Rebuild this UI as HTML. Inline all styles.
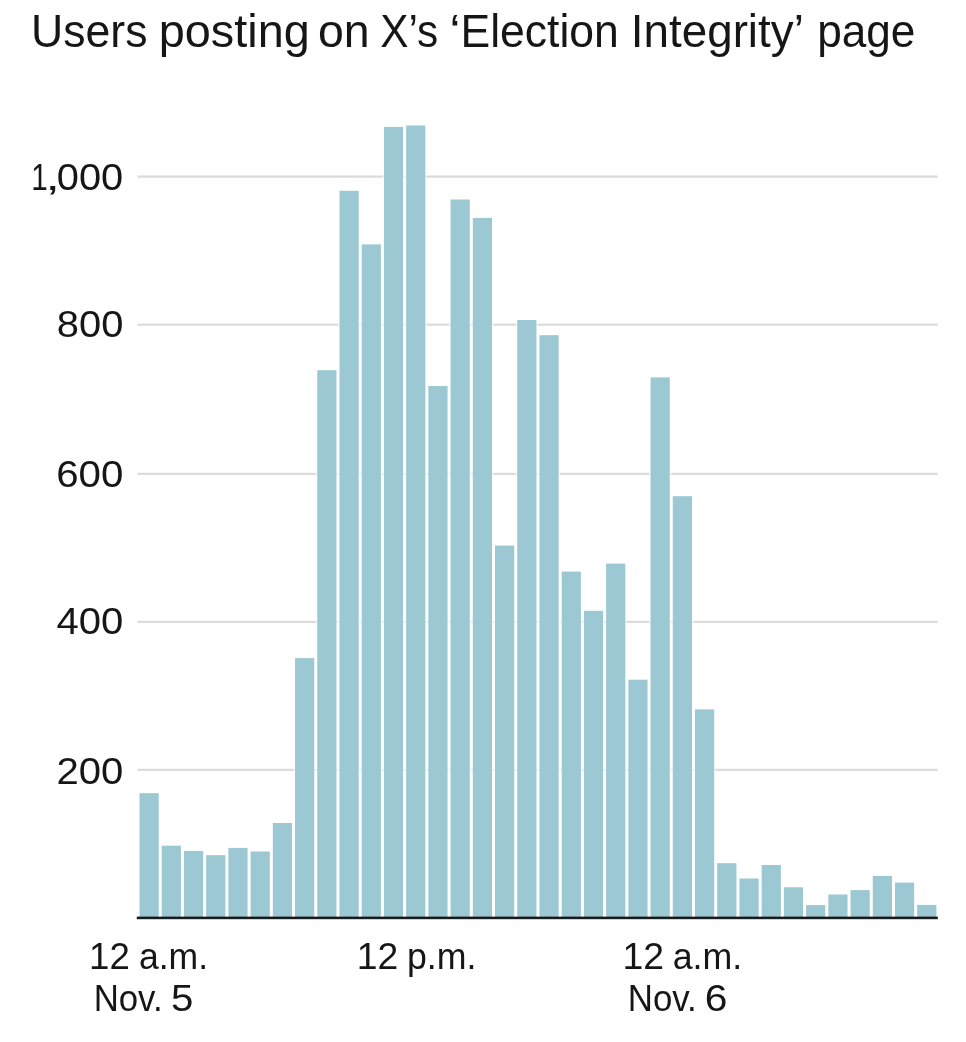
<!DOCTYPE html>
<html><head><meta charset="utf-8"><title>Users posting on X's 'Election Integrity' page</title>
<style>
html,body{margin:0;padding:0;background:#fff;}
body{width:966px;height:1042px;overflow:hidden;font-family:"Liberation Sans",sans-serif;}
svg{display:block;}
text{font-family:"Liberation Sans",sans-serif;fill:#161616;}
</style></head><body>
<svg width="966" height="1042" viewBox="0 0 966 1042">
<rect width="966" height="1042" fill="#ffffff"/>
<g id="grid">
<rect x="137.5" y="175.45" width="800.2" height="2.3" fill="#dcdcdc"/>
<rect x="137.5" y="323.55" width="800.2" height="2.3" fill="#dcdcdc"/>
<rect x="137.5" y="472.75" width="800.2" height="2.3" fill="#dcdcdc"/>
<rect x="137.5" y="620.75" width="800.2" height="2.3" fill="#dcdcdc"/>
<rect x="137.5" y="768.75" width="800.2" height="2.3" fill="#dcdcdc"/>
</g>
<g id="bars">
<rect x="139.50" y="793.2" width="19.2" height="124.8" fill="#9bc8d3" stroke="#fff" stroke-width="3" stroke-opacity="0.65" paint-order="stroke"/>
<rect x="161.72" y="845.7" width="19.2" height="72.3" fill="#9bc8d3" stroke="#fff" stroke-width="3" stroke-opacity="0.65" paint-order="stroke"/>
<rect x="183.94" y="850.9" width="19.2" height="67.1" fill="#9bc8d3" stroke="#fff" stroke-width="3" stroke-opacity="0.65" paint-order="stroke"/>
<rect x="206.16" y="855.2" width="19.2" height="62.8" fill="#9bc8d3" stroke="#fff" stroke-width="3" stroke-opacity="0.65" paint-order="stroke"/>
<rect x="228.38" y="847.9" width="19.2" height="70.1" fill="#9bc8d3" stroke="#fff" stroke-width="3" stroke-opacity="0.65" paint-order="stroke"/>
<rect x="250.60" y="851.5" width="19.2" height="66.5" fill="#9bc8d3" stroke="#fff" stroke-width="3" stroke-opacity="0.65" paint-order="stroke"/>
<rect x="272.82" y="823.0" width="19.2" height="95.0" fill="#9bc8d3" stroke="#fff" stroke-width="3" stroke-opacity="0.65" paint-order="stroke"/>
<rect x="295.04" y="658.1" width="19.2" height="259.9" fill="#9bc8d3" stroke="#fff" stroke-width="3" stroke-opacity="0.65" paint-order="stroke"/>
<rect x="317.26" y="370.2" width="19.2" height="547.8" fill="#9bc8d3" stroke="#fff" stroke-width="3" stroke-opacity="0.65" paint-order="stroke"/>
<rect x="339.48" y="190.8" width="19.2" height="727.2" fill="#9bc8d3" stroke="#fff" stroke-width="3" stroke-opacity="0.65" paint-order="stroke"/>
<rect x="361.70" y="244.4" width="19.2" height="673.6" fill="#9bc8d3" stroke="#fff" stroke-width="3" stroke-opacity="0.65" paint-order="stroke"/>
<rect x="383.92" y="126.9" width="19.2" height="791.1" fill="#9bc8d3" stroke="#fff" stroke-width="3" stroke-opacity="0.65" paint-order="stroke"/>
<rect x="406.14" y="125.5" width="19.2" height="792.5" fill="#9bc8d3" stroke="#fff" stroke-width="3" stroke-opacity="0.65" paint-order="stroke"/>
<rect x="428.36" y="386.0" width="19.2" height="532.0" fill="#9bc8d3" stroke="#fff" stroke-width="3" stroke-opacity="0.65" paint-order="stroke"/>
<rect x="450.58" y="199.5" width="19.2" height="718.5" fill="#9bc8d3" stroke="#fff" stroke-width="3" stroke-opacity="0.65" paint-order="stroke"/>
<rect x="472.80" y="217.9" width="19.2" height="700.1" fill="#9bc8d3" stroke="#fff" stroke-width="3" stroke-opacity="0.65" paint-order="stroke"/>
<rect x="495.02" y="545.6" width="19.2" height="372.4" fill="#9bc8d3" stroke="#fff" stroke-width="3" stroke-opacity="0.65" paint-order="stroke"/>
<rect x="517.24" y="320.0" width="19.2" height="598.0" fill="#9bc8d3" stroke="#fff" stroke-width="3" stroke-opacity="0.65" paint-order="stroke"/>
<rect x="539.46" y="335.2" width="19.2" height="582.8" fill="#9bc8d3" stroke="#fff" stroke-width="3" stroke-opacity="0.65" paint-order="stroke"/>
<rect x="561.68" y="571.6" width="19.2" height="346.4" fill="#9bc8d3" stroke="#fff" stroke-width="3" stroke-opacity="0.65" paint-order="stroke"/>
<rect x="583.90" y="610.8" width="19.2" height="307.2" fill="#9bc8d3" stroke="#fff" stroke-width="3" stroke-opacity="0.65" paint-order="stroke"/>
<rect x="606.12" y="563.6" width="19.2" height="354.4" fill="#9bc8d3" stroke="#fff" stroke-width="3" stroke-opacity="0.65" paint-order="stroke"/>
<rect x="628.34" y="679.7" width="19.2" height="238.3" fill="#9bc8d3" stroke="#fff" stroke-width="3" stroke-opacity="0.65" paint-order="stroke"/>
<rect x="650.56" y="377.4" width="19.2" height="540.6" fill="#9bc8d3" stroke="#fff" stroke-width="3" stroke-opacity="0.65" paint-order="stroke"/>
<rect x="672.78" y="496.2" width="19.2" height="421.8" fill="#9bc8d3" stroke="#fff" stroke-width="3" stroke-opacity="0.65" paint-order="stroke"/>
<rect x="695.00" y="709.4" width="19.2" height="208.6" fill="#9bc8d3" stroke="#fff" stroke-width="3" stroke-opacity="0.65" paint-order="stroke"/>
<rect x="717.22" y="863.2" width="19.2" height="54.8" fill="#9bc8d3" stroke="#fff" stroke-width="3" stroke-opacity="0.65" paint-order="stroke"/>
<rect x="739.44" y="878.5" width="19.2" height="39.5" fill="#9bc8d3" stroke="#fff" stroke-width="3" stroke-opacity="0.65" paint-order="stroke"/>
<rect x="761.66" y="865.0" width="19.2" height="53.0" fill="#9bc8d3" stroke="#fff" stroke-width="3" stroke-opacity="0.65" paint-order="stroke"/>
<rect x="783.88" y="887.3" width="19.2" height="30.7" fill="#9bc8d3" stroke="#fff" stroke-width="3" stroke-opacity="0.65" paint-order="stroke"/>
<rect x="806.10" y="905.1" width="19.2" height="12.9" fill="#9bc8d3" stroke="#fff" stroke-width="3" stroke-opacity="0.65" paint-order="stroke"/>
<rect x="828.32" y="894.5" width="19.2" height="23.5" fill="#9bc8d3" stroke="#fff" stroke-width="3" stroke-opacity="0.65" paint-order="stroke"/>
<rect x="850.54" y="890.1" width="19.2" height="27.9" fill="#9bc8d3" stroke="#fff" stroke-width="3" stroke-opacity="0.65" paint-order="stroke"/>
<rect x="872.76" y="875.9" width="19.2" height="42.1" fill="#9bc8d3" stroke="#fff" stroke-width="3" stroke-opacity="0.65" paint-order="stroke"/>
<rect x="894.98" y="882.6" width="19.2" height="35.4" fill="#9bc8d3" stroke="#fff" stroke-width="3" stroke-opacity="0.65" paint-order="stroke"/>
<rect x="917.20" y="904.9" width="19.2" height="13.1" fill="#9bc8d3" stroke="#fff" stroke-width="3" stroke-opacity="0.65" paint-order="stroke"/>
</g>
<rect x="136.8" y="916.6" width="801" height="2.6" fill="#1a1a1a"/>
<g id="labels" style="will-change:transform">
<text x="31.04" y="47.0" font-size="47" textLength="116.40" lengthAdjust="spacingAndGlyphs">Users</text>
<text x="158.71" y="47.0" font-size="47" textLength="151.04" lengthAdjust="spacingAndGlyphs">posting</text>
<text x="318.02" y="47.0" font-size="47" textLength="51.67" lengthAdjust="spacingAndGlyphs">on</text>
<text x="380.17" y="47.0" font-size="47" textLength="58.06" lengthAdjust="spacingAndGlyphs">X’s</text>
<text x="449.57" y="47.0" font-size="47" textLength="10.92" lengthAdjust="spacingAndGlyphs">‘</text>
<text x="460.45" y="47.0" font-size="47" textLength="158.36" lengthAdjust="spacingAndGlyphs">Election</text>
<text x="630.86" y="47.0" font-size="47" textLength="172.95" lengthAdjust="spacingAndGlyphs">Integrity’</text>
<text x="817.18" y="47.0" font-size="47" textLength="98.26" lengthAdjust="spacingAndGlyphs">page</text>
<text x="31.37" y="189.7" font-size="36.5" textLength="16.51" lengthAdjust="spacingAndGlyphs">1</text>
<text x="45.45" y="189.7" font-size="36.5" textLength="14.38" lengthAdjust="spacingAndGlyphs">,</text>
<text x="56.77" y="189.7" font-size="36.5" textLength="66.37" lengthAdjust="spacingAndGlyphs">000</text>
<text x="56.76" y="337.2" font-size="36.5" textLength="66.58" lengthAdjust="spacingAndGlyphs">800</text>
<text x="56.17" y="486.5" font-size="36.5" textLength="67.18" lengthAdjust="spacingAndGlyphs">600</text>
<text x="56.48" y="634.3" font-size="36.5" textLength="66.87" lengthAdjust="spacingAndGlyphs">400</text>
<text x="56.48" y="784.0" font-size="36.5" textLength="66.87" lengthAdjust="spacingAndGlyphs">200</text>
<text x="89.14" y="969.1" font-size="36.5" textLength="40.72" lengthAdjust="spacingAndGlyphs">12</text>
<text x="138.94" y="969.1" font-size="36.5" textLength="69.23" lengthAdjust="spacingAndGlyphs">a.m.</text>
<text x="93.64" y="1010.8" font-size="36.5" textLength="68.95" lengthAdjust="spacingAndGlyphs">Nov.</text>
<text x="171.05" y="1010.8" font-size="36.5" textLength="22.37" lengthAdjust="spacingAndGlyphs">5</text>
<text x="356.69" y="969.1" font-size="36.5" textLength="41.51" lengthAdjust="spacingAndGlyphs">12</text>
<text x="407.00" y="969.1" font-size="36.5" textLength="69.48" lengthAdjust="spacingAndGlyphs">p.m.</text>
<text x="622.49" y="969.1" font-size="36.5" textLength="41.51" lengthAdjust="spacingAndGlyphs">12</text>
<text x="672.73" y="969.1" font-size="36.5" textLength="69.55" lengthAdjust="spacingAndGlyphs">a.m.</text>
<text x="627.74" y="1010.8" font-size="36.5" textLength="69.06" lengthAdjust="spacingAndGlyphs">Nov.</text>
<text x="704.84" y="1010.8" font-size="36.5" textLength="22.70" lengthAdjust="spacingAndGlyphs">6</text>
</g>
</svg>
</body></html>
